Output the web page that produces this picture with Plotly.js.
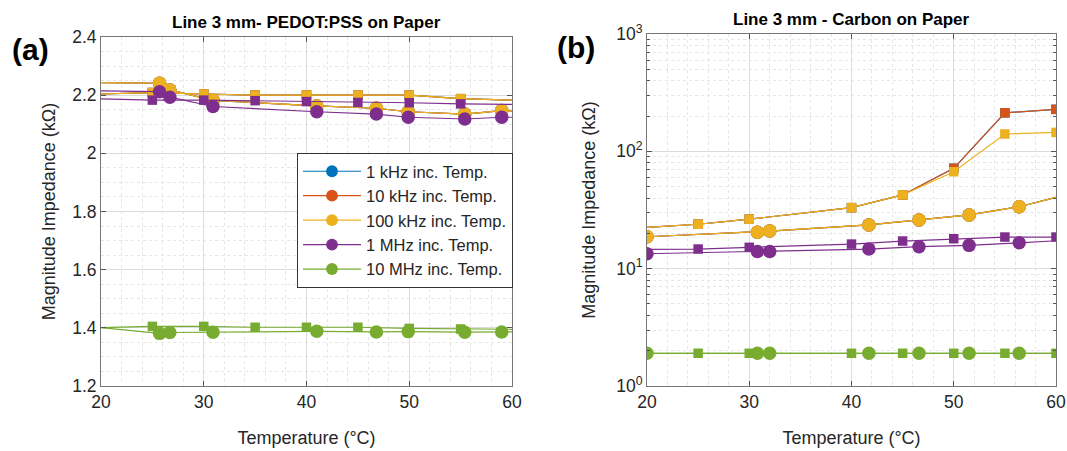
<!DOCTYPE html>
<html><head><meta charset="utf-8">
<script src="https://cdn.plot.ly/plotly-3.0.1.min.js"></script>
<style>html,body{margin:0;padding:0;background:#fff;}#chart{width:1067px;height:451px;}</style>
</head><body><div id="chart"></div>
<script>
// ---------- DATA ----------
const seriesNames = ['1 kHz inc. Temp.', '10 kHz inc. Temp.', '100 kHz inc. Temp.', '1 MHz inc. Temp.', '10 MHz inc. Temp.'];

// (a) PEDOT:PSS on paper (kOhm)
const pedTempInc = [20, 25.7, 26.7, 30.9, 41, 46.8, 49.9, 55.4, 59, 60];
const pedTempDec = [20, 25, 30, 35, 40, 45, 50, 55, 60];
const ped1kInc   = [2.243, 2.241, 2.218, 2.182, 2.163, 2.155, 2.143, 2.135, 2.147, 2.146];
const ped10kInc  = [2.243, 2.241, 2.218, 2.182, 2.163, 2.155, 2.143, 2.135, 2.147, 2.146];
const ped100kInc = [2.243, 2.241, 2.218, 2.182, 2.163, 2.155, 2.143, 2.135, 2.147, 2.146];
const ped1MInc   = [2.215, 2.212, 2.193, 2.161, 2.143, 2.135, 2.124, 2.118, 2.124, 2.124];
const ped10MInc  = [1.401, 1.381, 1.384, 1.385, 1.388, 1.386, 1.387, 1.385, 1.386, 1.386];
const ped1kDec   = [2.204, 2.209, 2.204, 2.200, 2.200, 2.200, 2.200, 2.188, 2.183];
const ped10kDec  = [2.204, 2.209, 2.204, 2.200, 2.200, 2.200, 2.200, 2.188, 2.183];
const ped100kDec = [2.204, 2.209, 2.204, 2.200, 2.200, 2.200, 2.200, 2.188, 2.183];
const ped1MDec   = [2.187, 2.183, 2.183, 2.181, 2.178, 2.175, 2.174, 2.170, 2.168];
const ped10MDec  = [1.401, 1.405, 1.405, 1.402, 1.402, 1.402, 1.398, 1.396, 1.395];

// (b) Carbon on paper (kOhm)
const carTempInc = [20, 30.8, 32, 41.7, 46.6, 51.5, 56.4, 60];
const carTempDec = [20, 25, 30, 40, 45, 50, 55, 60];
const car1kInc   = [18.7, 20.4, 20.9, 23.6, 26.0, 28.7, 33.7, 40.6];
const car10kInc  = [18.7, 20.4, 20.9, 23.6, 26.0, 28.7, 33.7, 40.6];
const car100kInc = [18.7, 20.4, 20.9, 23.6, 26.0, 28.7, 33.7, 40.6];
const car1MInc   = [13.4, 14.0, 14.0, 14.7, 15.4, 15.8, 16.6, 17.3];
const car10MInc  = [1.9, 1.9, 1.9, 1.9, 1.9, 1.9, 1.9, 1.9];
const car1kDec   = [22.5, 23.9, 26.4, 33.1, 42.5, 71.7, 213, 228];
const car10kDec  = [22.5, 23.9, 26.4, 33.1, 42.5, 71.7, 213, 228];
const car100kDec = [22.5, 23.9, 26.4, 33.1, 42.5, 67.0, 140.6, 145];
const car1MDec   = [14.6, 14.7, 15.2, 16.2, 17.2, 18.0, 18.6, 18.6];
const car10MDec  = [1.9, 1.9, 1.9, 1.9, 1.9, 1.9, 1.9, 1.9];

const yTickLabelsLog = ['10<sup>0</sup>', '10<sup>1</sup>', '10<sup>2</sup>', '10<sup>3</sup>'];

// ---------- STYLE ----------
const colors = ['#0072BD', '#D95319', '#EDB120', '#7E2F8E', '#77AC30'];
const FONT = 'Liberation Sans, Arial, sans-serif';

function sizes(n, unmarked, s) {
  const arr = [];
  for (let i = 0; i < n; i++) arr.push(unmarked.indexOf(i) >= 0 ? 0 : s);
  return arr;
}
function tr(xa, ya, x, y, ci, sym, unmarkedIdx, legend) {
  const s = sym === 'circle' ? 13.5 : 9.5;
  return {
    type: 'scatter', mode: 'lines+markers', x: x, y: y, xaxis: xa, yaxis: ya,
    name: seriesNames[ci], showlegend: legend,
    line: {color: colors[ci], width: 1.2},
    marker: {color: colors[ci], symbol: sym, size: sizes(x.length, unmarkedIdx, s), opacity: 1, line: {width: 0}},
    hoverinfo: 'x+y'
  };
}

const pedInc = [ped1kInc, ped10kInc, ped100kInc, ped1MInc, ped10MInc];
const pedDec = [ped1kDec, ped10kDec, ped100kDec, ped1MDec, ped10MDec];
const carInc = [car1kInc, car10kInc, car100kInc, car1MInc, car10MInc];
const carDec = [car1kDec, car10kDec, car100kDec, car1MDec, car10MDec];

const data = [];
for (let i = 0; i < 5; i++) {
  data.push(tr('x', 'y', pedTempDec, pedDec[i], i, 'square', [0, pedTempDec.length - 1], false));
  data.push(tr('x', 'y', pedTempInc, pedInc[i], i, 'circle', [0, pedTempInc.length - 1], false));
  data.push(tr('x2', 'y2', carTempDec, carDec[i], i, 'square', [0], false));
  data.push(tr('x2', 'y2', carTempInc, carInc[i], i, 'circle', [carTempInc.length - 1], true));
}

const minorLog = [];
for (let k = 0; k < 3; k++) for (let d = 2; d <= 9; d++) minorLog.push(d * Math.pow(10, k));

const W = 1067, H = 451;
const tickFont = {family: FONT, size: 17.5, color: '#262626'};
const titleFont = {family: FONT, size: 18, color: '#262626'};
function xax(dom, anchor) {
  return {
    domain: dom, anchor: anchor, range: [20, 60], dtick: 10, tick0: 20,
    showgrid: true, gridcolor: '#dcdcdc', gridwidth: 1, zeroline: false,
    showline: true, linecolor: '#777', linewidth: 1, mirror: 'ticks',
    ticks: 'inside', ticklen: 5, tickcolor: '#555', tickfont: tickFont,
    minor: {dtick: 2, showgrid: true, gridcolor: '#e6e6e6', griddash: 'dot', ticks: ''},
    title: {text: 'Temperature (°C)', font: titleFont, standoff: 20},
    fixedrange: true
  };
}
const layout = {
  width: W, height: H, margin: {l: 0, r: 0, t: 0, b: 0},
  paper_bgcolor: '#fff', plot_bgcolor: '#fff',
  font: {family: FONT},
  showlegend: true,
  legend: {
    x: 297 / W, y: 1 - 153 / H, xanchor: 'left', yanchor: 'top',
    bgcolor: '#fff', bordercolor: '#333', borderwidth: 1,
    font: {family: FONT, size: 16.5, color: '#262626'},
    itemwidth: 58, itemsizing: 'trace', tracegroupgap: 0
  },
  xaxis: xax([101 / W, 512 / W], 'y'),
  xaxis2: xax([647 / W, 1056 / W], 'y2'),
  yaxis: {
    domain: [1 - 386 / H, 1 - 37 / H], anchor: 'x', range: [1.2, 2.4], dtick: 0.2, tick0: 1.2,
    showgrid: true, gridcolor: '#dcdcdc', zeroline: false,
    showline: true, linecolor: '#777', linewidth: 1, mirror: 'ticks',
    ticks: 'inside', ticklen: 5, tickcolor: '#555', tickfont: tickFont,
    minor: {dtick: 0.05, showgrid: true, gridcolor: '#e6e6e6', griddash: 'dot', ticks: ''},
    title: {text: 'Magnitude Impedance (kΩ)', font: titleFont, standoff: 11},
    fixedrange: true
  },
  yaxis2: {
    domain: [1 - 386 / H, 1 - 34 / H], anchor: 'x2', type: 'log', range: [0, 3],
    tickmode: 'array', tickvals: [1, 10, 100, 1000], ticktext: yTickLabelsLog,
    showgrid: true, gridcolor: '#dcdcdc', zeroline: false,
    showline: true, linecolor: '#777', linewidth: 1, mirror: 'ticks',
    ticks: 'inside', ticklen: 5, tickcolor: '#555', tickfont: tickFont,
    minor: {tickmode: 'array', tickvals: minorLog, showgrid: true, gridcolor: '#e6e6e6', griddash: 'dot', ticks: 'inside', ticklen: 3, tickcolor: '#555'},
    title: {text: 'Magnitude Impedance (kΩ)', font: titleFont, standoff: 15},
    fixedrange: true
  },
  annotations: [
    {text: '<b>Line 3 mm- PEDOT:PSS on Paper</b>', xref: 'paper', yref: 'paper', x: 306.5 / W, y: 1 - 22 / H, xanchor: 'center', yanchor: 'middle', showarrow: false, font: {family: FONT, size: 17, color: '#000'}},
    {text: '<b>Line 3 mm - Carbon on Paper</b>', xref: 'paper', yref: 'paper', x: 851.5 / W, y: 1 - 20 / H, xanchor: 'center', yanchor: 'middle', showarrow: false, font: {family: FONT, size: 17, color: '#000'}},
    {text: '<b>(a)</b>', xref: 'paper', yref: 'paper', x: 30 / W, y: 1 - 49 / H, xanchor: 'center', yanchor: 'middle', showarrow: false, font: {family: FONT, size: 30, color: '#000'}},
    {text: '<b>(b)</b>', xref: 'paper', yref: 'paper', x: 576 / W, y: 1 - 47 / H, xanchor: 'center', yanchor: 'middle', showarrow: false, font: {family: FONT, size: 30, color: '#000'}}
  ]
};
Plotly.newPlot('chart', data, layout, {displayModeBar: false, staticPlot: true});
</script></body></html>
